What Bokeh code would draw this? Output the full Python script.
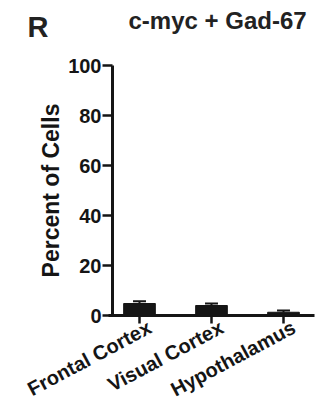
from bokeh.plotting import figure
from bokeh.models import Range1d, FixedTicker, ColumnDataSource
from bokeh.core.properties import value
from bokeh.embed import file_html
from bokeh.resources import INLINE

regions = ["Frontal Cortex", "Visual Cortex", "Hypothalamus"]
means = [4.8, 4.0, 1.3]
sems = [0.9, 0.8, 0.7]
y_ticks = [0, 20, 40, 60, 80, 100]
title_text = "c-myc + Gad-67"
panel_letter = "R"

FONT = "Liberation Sans"
INK = "#151515"
xs = list(range(1, len(regions) + 1))
upper = [m + s for m, s in zip(means, sems)]
cap_half = 0.09
src = ColumnDataSource(dict(
    x=xs, top=means, upper=upper, name=regions,
    cx0=[x - cap_half for x in xs], cx1=[x + cap_half for x in xs],
    ly=[-0.3] * len(xs),
))

# the frame covers the whole canvas; axes are pinned with fixed_location
W, H = 333, 404
PX_X, PX_Y = 72.0, 2.5          # pixels per data unit
X1_PAGE, Y0_PAGE = 139.0, 315.0  # where x=1 and y=0 sit on the page
x_lo = 1 - X1_PAGE / PX_X
x_hi = 1 + (W - X1_PAGE) / PX_X
y_hi = Y0_PAGE / PX_Y
y_lo = -(H - Y0_PAGE) / PX_Y

def px_to_x(px):
    return 1 + (px - X1_PAGE) / PX_X

def py_to_y(py):
    return (Y0_PAGE - py) / PX_Y

p = figure(width=W, height=H, output_backend="svg", toolbar_location=None,
           x_range=Range1d(x_lo, x_hi), y_range=Range1d(y_lo, y_hi),
           min_border=0)
p.outline_line_color = None
p.grid.visible = False
p.background_fill_color = "white"
p.border_fill_color = "white"

p.vbar(x="x", top="top", width=0.44, source=src, fill_color=INK,
       line_color=INK)
p.segment(x0="x", y0="top", x1="x", y1="upper", source=src,
          line_color=INK, line_width=2)
p.segment(x0="cx0", y0="upper", x1="cx1", y1="upper", source=src,
          line_color=INK, line_width=2)

p.xaxis.ticker = FixedTicker(ticks=xs)
p.xaxis.major_label_overrides = {x: "" for x in xs}
p.xaxis.major_label_text_font_size = "1px"
p.xaxis.fixed_location = 0
p.xaxis.bounds = (px_to_x(108), px_to_x(314))
p.yaxis.ticker = FixedTicker(ticks=y_ticks)
p.yaxis.bounds = (0, 100)
p.yaxis.fixed_location = px_to_x(112)
p.yaxis.axis_label = "Percent of Cells"

for ax in (p.xaxis, p.yaxis):
    ax.axis_line_width = 3
    ax.axis_line_color = INK
    ax.major_tick_line_width = 2.5
    ax.major_tick_line_color = INK
    ax.major_tick_in = 0
    ax.minor_tick_line_color = None
    ax.axis_label_text_font = FONT
    ax.axis_label_text_font_style = "bold"
    ax.axis_label_text_font_size = "23px"
    ax.axis_label_text_color = INK
p.yaxis.major_label_text_font = FONT
p.yaxis.major_label_text_font_style = "bold"
p.yaxis.major_label_text_font_size = "20px"
p.yaxis.major_label_text_color = INK
p.yaxis.major_tick_out = 10
p.xaxis.major_tick_out = 8
p.yaxis.major_label_standoff = 1
p.yaxis.axis_label_standoff = 1

# category names, rotated, right end at each tick
p.text(x="x", y="ly", text="name", source=src, angle=0.49,
       text_align="right", text_baseline="top", x_offset=5,
       text_font=value(FONT), text_font_style="bold",
       text_font_size="20px", text_color=INK)

p.text(x=[px_to_x(128)], y=[py_to_y(20)],
       text=[title_text], text_align="left", text_baseline="alphabetic",
       text_font=value(FONT), text_font_style="bold",
       text_font_size="24px", text_color="#222222")
p.text(x=[px_to_x(27)], y=[py_to_y(26)],
       text=[panel_letter], text_align="left", text_baseline="alphabetic",
       text_font=value(FONT), text_font_style="bold",
       text_font_size="29px", text_color="#222222")

open("out.html", "w").write(file_html(p, INLINE))
